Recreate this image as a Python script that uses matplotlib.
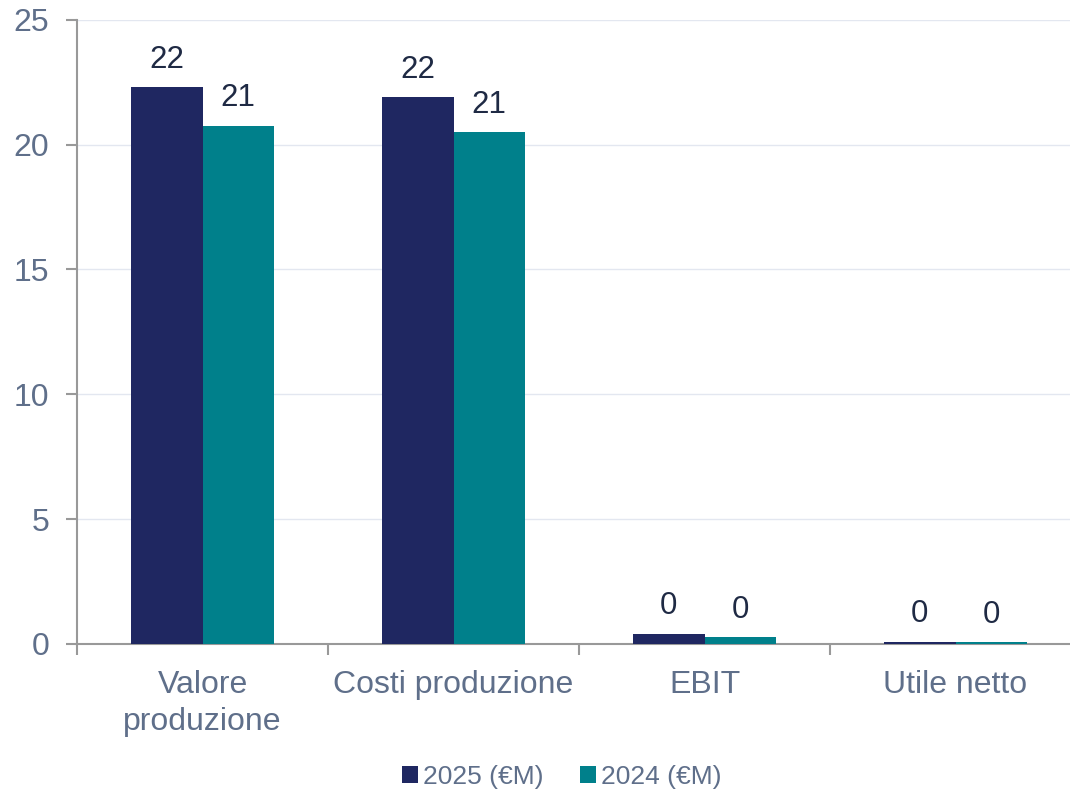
import matplotlib.pyplot as plt
import numpy as np

plt.rcParams['font.family'] = ['Liberation Sans', 'DejaVu Sans']

categories = ["Valore\nproduzione", "Costi produzione", "EBIT", "Utile netto"]
val_2025 = [22.3, 21.9, 0.4, 0.08]
val_2024 = [20.75, 20.5, 0.26, 0.06]
lab_2025 = ["22", "22", "0", "0"]
lab_2024 = ["21", "21", "0", "0"]
series_names = ["2025 (€M)", "2024 (€M)"]

navy = "#1f2761"
teal = "#00808b"
txt = "#5f6f8a"
dark = "#1f2a44"

fig = plt.figure(figsize=(10.7, 7.91), dpi=100)
ax = fig.add_axes([0.072, 0.186, 0.928, 0.789])

x = np.arange(len(categories))
w = 0.285
b1 = ax.bar(x - w / 2, val_2025, w, color=navy, label=series_names[0], zorder=3)
b2 = ax.bar(x + w / 2, val_2024, w, color=teal, label=series_names[1], zorder=3)

for bars, labs in ((b1, lab_2025), (b2, lab_2024)):
    for r, s in zip(bars, labs):
        ax.annotate(s, (r.get_x() + r.get_width() / 2, r.get_height()),
                    xytext=(0, 9), textcoords="offset points",
                    ha="center", va="bottom", fontsize=22.5, color=dark)

ax.set_yticks([0, 5, 10, 15, 20, 25])
ax.grid(axis="y", color="#e3e7f0", linewidth=1, zorder=0)

ax.set_xticks([-0.5, 0.5, 1.5, 2.5, 3.5])
ax.set_xticklabels([])
ax.set_xticks(x, minor=True)
ax.set_xticklabels(categories, minor=True, fontsize=23, color=txt, va="top",
                   linespacing=1.28)
ax.tick_params(axis="x", which="minor", length=0, pad=19)
ax.tick_params(axis="x", which="major", length=8, width=1.5, color="#999999")
ax.tick_params(axis="y", length=8, width=1.5, color="#999999", labelsize=23,
               labelcolor=txt, pad=12)
ax.set_ylim(0, 25)
ax.set_xlim(-0.5, 3.456)

for s in ("top", "right"):
    ax.spines[s].set_visible(False)
for s in ("left", "bottom"):
    ax.spines[s].set_color("#999999")
    ax.spines[s].set_linewidth(1.5)

fig.legend(handles=[b1, b2], labels=series_names, loc="center",
           bbox_to_anchor=(0.525, 0.018), ncol=2, frameon=False,
           fontsize=19, labelcolor=txt, handlelength=0.6, handleheight=0.6,
           handletextpad=0.2, columnspacing=1.4)

fig.savefig("out.png", dpi=100)
